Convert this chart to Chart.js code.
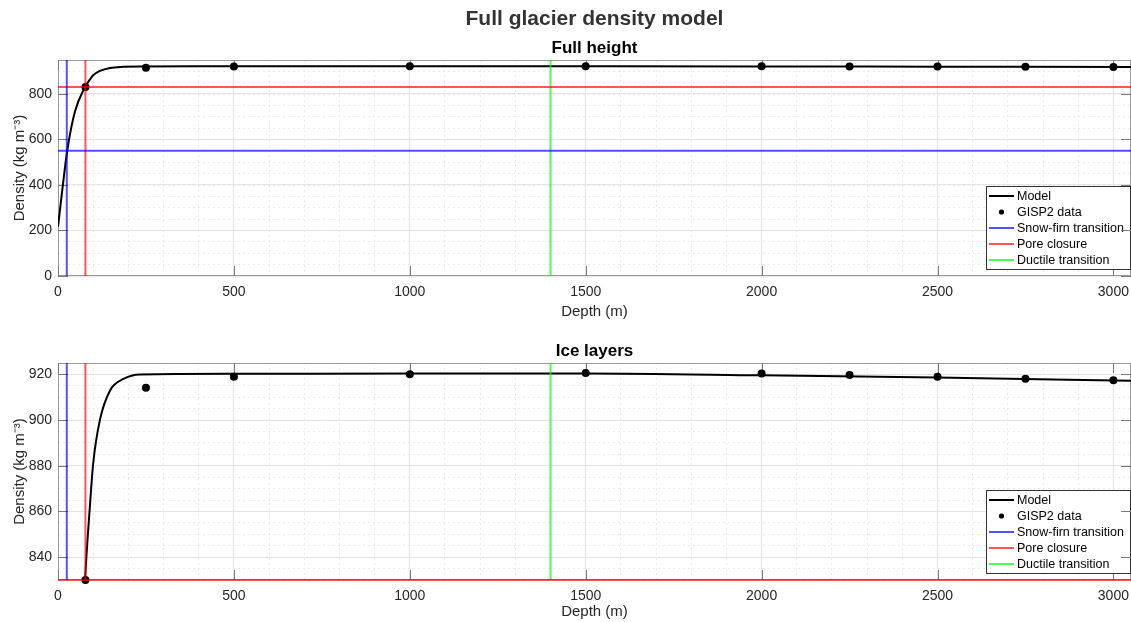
<!DOCTYPE html>
<html>
<head>
<meta charset="utf-8">
<script src="https://cdn.jsdelivr.net/npm/chart.js@4.4.0/dist/chart.umd.min.js"></script>
<style>
  body { margin: 0; background: #fff; }
  #page { position: relative; width: 1131px; height: 622px; overflow: hidden; }
  #suptitle {
    position: absolute; left: 58px; right: 0; top: 6px; z-index: 2;
    text-align: center; color: #333;
    font: bold 21px "Liberation Sans", Arial, sans-serif;
  }
  .panel { position: absolute; left: 0; width: 1131px; }
  #panelFull { top: 0; height: 322px; }
  #panelIce { top: 322px; height: 300px; }
</style>
</head>
<body>
<div id="page">
  <div id="suptitle">Full glacier density model</div>
  <div class="panel" id="panelFull"><canvas id="fullheight"></canvas></div>
  <div class="panel" id="panelIce"><canvas id="icelayers"></canvas></div>
</div>
<script>
// model curve, depth (m) vs density (kg m^-3)
const modelDepth = [0, 15, 26.5, 48, 77, 91, 100, 119, 148, 186, 233, 500, 1000, 1500, 2000, 2500, 3050];
const modelDensity = [216, 414, 553, 721, 830, 863, 881, 900, 913, 918, 920, 920.3, 920.4, 920.4, 919.6, 918.6, 917.2];

// GISP2 core measurements
const gispDepth = [78, 250, 500, 1000, 1500, 2000, 2250, 2500, 2750, 3000];
const gispDensity = [830, 914.2, 919, 920.1, 920.6, 920.4, 919.7, 919.0, 918.1, 917.4];

// transitions
const snowFirnDepth = 25;
const snowFirnDensity = 550;
const poreDepth = 78;
const poreDensity = 830;
const ductileDepth = 1400;

// axes
const depthMax = 3050;
const depthTicks = [0, 500, 1000, 1500, 2000, 2500, 3000];
const fullRange = [0, 948];
const fullTicks = [0, 200, 400, 600, 800];
const iceRange = [830, 925];
const iceTicks = [840, 860, 880, 900, 920];

const colors = {
  model: "#000000",
  data: "#000000",
  snowFirn: "rgba(0, 0, 255, 0.68)",
  pore: "rgba(255, 0, 0, 0.66)",
  ductile: "rgba(0, 255, 0, 0.7)",
  text: "#262626",
  frame: "#9a9a9a",
  tick: "#7a7a7a",
  grid: "#e4e4e4",
  minorGrid: "#ebebeb",
};
const FONT = '"Liberation Sans", Arial, sans-serif';
Chart.defaults.font.family = FONT;

function zip(xs, ys) {
  return xs.map((x, i) => ({ x: x, y: ys[i] }));
}

// vertical line at a depth, plus a horizontal one at a density when it falls in range
function transitionLine(depth, density, yMin, yMax) {
  const pts = [{ x: depth, y: yMin }, { x: depth, y: yMax }];
  if (density !== undefined && density >= yMin && density <= yMax) {
    pts.push({ x: null, y: null }, { x: 0, y: density }, { x: depthMax, y: density });
  }
  return pts;
}

function drawTicks(chart, sides) {
  const ctx = chart.ctx;
  const a = chart.chartArea;
  ctx.save();
  ctx.beginPath();
  if (sides.includes("x")) {
    chart.scales.x.ticks.forEach((t) => {
      const px = Math.round(chart.scales.x.getPixelForValue(t.value)) + 0.5;
      ctx.moveTo(px, a.bottom);
      ctx.lineTo(px, a.bottom - 10);
      ctx.moveTo(px, a.top);
      ctx.lineTo(px, a.top + 10);
    });
  }
  chart.scales.y.ticks.forEach((t) => {
    const py = Math.round(chart.scales.y.getPixelForValue(t.value)) + 0.5;
    if (sides.includes("left")) {
      ctx.moveTo(a.left, py);
      ctx.lineTo(a.left + 10, py);
    }
    if (sides.includes("right")) {
      ctx.moveTo(a.right, py);
      ctx.lineTo(a.right - 10, py);
    }
  });
  ctx.strokeStyle = colors.tick;
  ctx.lineWidth = 1;
  ctx.stroke();
  ctx.restore();
}

function drawLegend(chart) {
  const ctx = chart.ctx;
  const a = chart.chartArea;
  const items = chart.data.datasets.filter((d) => d.label);
  const w = 144;
  const h = 83;
  const left = Math.round(a.right - 1 - w);
  const top = Math.round(a.bottom - 7 - h);
  ctx.save();
  ctx.fillStyle = "#fff";
  ctx.fillRect(left, top, w, h);
  ctx.strokeStyle = "#333";
  ctx.lineWidth = 1;
  ctx.strokeRect(left + 0.5, top + 0.5, w, h);
  ctx.font = "12.5px " + FONT;
  ctx.textBaseline = "middle";
  items.forEach((d, i) => {
    const cy = Math.round(top + 10 + i * 16);
    if (d.showLine === false) {
      ctx.beginPath();
      ctx.arc(left + 15.5, cy, 2.6, 0, Math.PI * 2);
      ctx.fillStyle = d.backgroundColor;
      ctx.fill();
    } else {
      ctx.beginPath();
      ctx.moveTo(left + 3, cy);
      ctx.lineTo(left + 28, cy);
      ctx.strokeStyle = d.borderColor;
      ctx.lineWidth = 2;
      ctx.stroke();
    }
    ctx.fillStyle = "#000";
    ctx.fillText(d.label, left + 31, cy + 1);
  });
  ctx.restore();
}

const panelDecorations = {
  id: "panelDecorations",
  beforeDatasetsDraw: (chart) => {
    const a = chart.chartArea;
    const ctx = chart.ctx;
    ctx.save();
    ctx.strokeStyle = colors.frame;
    ctx.lineWidth = 1;
    ctx.strokeRect(a.left + 0.5, a.top + 0.5, a.right - a.left - 1, a.bottom - a.top - 1);
    ctx.restore();
    drawTicks(chart, ["x", "left", "right"]);
  },
  afterDraw: (chart) => {
    drawLegend(chart);
    drawTicks(chart, ["right"]);
    const a = chart.chartArea;
    const ctx = chart.ctx;
    ctx.save();
    ctx.font = "bold 17px " + FONT;
    ctx.fillStyle = "#000";
    ctx.textAlign = "center";
    ctx.textBaseline = "alphabetic";
    ctx.fillText(chart.options.plugins.panelTitle.text, (a.left + a.right) / 2, a.top - 7);
    ctx.restore();
  },
};

function panelConfig(title, yRange, yTicks, yMinorStep, topPad, xHeight) {
  const [yMin, yMax] = yRange;
  return {
    type: "line",
    data: {
      datasets: [
        {
          label: "Model",
          data: zip(modelDepth, modelDensity),
          borderColor: colors.model,
          borderWidth: 2,
          pointRadius: 0,
          cubicInterpolationMode: "monotone",
          order: 2,
        },
        {
          label: "GISP2 data",
          data: zip(gispDepth, gispDensity),
          showLine: false,
          pointRadius: 4,
          pointBackgroundColor: colors.data,
          pointBorderWidth: 0,
          backgroundColor: colors.data,
          borderColor: colors.data,
          clip: false,
          order: 1,
        },
        {
          label: "Snow-firn transition",
          data: transitionLine(snowFirnDepth, snowFirnDensity, yMin, yMax),
          borderColor: colors.snowFirn,
          borderWidth: 2,
          pointRadius: 0,
          spanGaps: false,
          clip: false,
          order: 0,
        },
        {
          label: "Pore closure",
          data: transitionLine(poreDepth, poreDensity, yMin, yMax),
          borderColor: colors.pore,
          borderWidth: 2,
          pointRadius: 0,
          spanGaps: false,
          clip: false,
          order: 0,
        },
        {
          label: "Ductile transition",
          data: transitionLine(ductileDepth, undefined, yMin, yMax),
          borderColor: colors.ductile,
          borderWidth: 2,
          pointRadius: 0,
          clip: false,
          order: 0,
        },
      ],
    },
    options: {
      animation: false,
      responsive: true,
      maintainAspectRatio: false,
      events: [],
      layout: { autoPadding: false, padding: { top: topPad, left: 0, right: 0, bottom: 0 } },
      plugins: {
        legend: { display: false },
        tooltip: { enabled: false },
        panelTitle: { text: title },
      },
      scales: {
        xm: {
          type: "linear",
          position: "bottom",
          min: 0,
          max: depthMax,
          afterBuildTicks: (s) => { s.ticks = s.ticks.filter((t) => t.value <= 3000); },
          afterFit: (s) => { s.height = 0; s.paddingLeft = 0; s.paddingRight = 0; },
          ticks: { display: false, stepSize: 100, includeBounds: false },
          grid: { color: colors.minorGrid, drawTicks: false },
          border: { display: false, dash: [2, 3] },
        },
        ym: {
          type: "linear",
          position: "left",
          min: yMin,
          max: yMax,
          afterFit: (s) => { s.width = 0; s.paddingTop = 0; s.paddingBottom = 0; },
          ticks: { display: false, stepSize: yMinorStep, includeBounds: false },
          grid: { color: colors.minorGrid, drawTicks: false },
          border: { display: false, dash: [2, 3] },
        },
        x: {
          type: "linear",
          position: "bottom",
          min: 0,
          max: depthMax,
          afterBuildTicks: (s) => { s.ticks = depthTicks.map((v) => ({ value: v })); },
          afterFit: (s) => { s.height = xHeight; s.paddingLeft = 0; s.paddingRight = 0; },
          grid: { color: colors.grid, drawTicks: false },
          border: { display: false },
          ticks: {
            color: colors.text,
            font: { size: 14 },
            padding: 8,
            maxRotation: 0,
            callback: (v) => String(v),
          },
          title: {
            display: true,
            text: "Depth (m)",
            color: colors.text,
            font: { size: 15 },
            padding: { top: 0, bottom: 1 },
          },
        },
        y: {
          type: "linear",
          position: "left",
          min: yMin,
          max: yMax,
          afterBuildTicks: (s) => { s.ticks = yTicks.map((v) => ({ value: v })); },
          afterFit: (s) => { s.width = 58; s.paddingTop = 0; s.paddingBottom = 0; },
          grid: { color: colors.grid, drawTicks: false },
          border: { display: false },
          ticks: { color: colors.text, font: { size: 14 }, padding: 6, callback: (v) => String(v) },
          title: {
            display: true,
            text: "Density (kg m\u207B\u00B3)",
            color: colors.text,
            font: { size: 15 },
            padding: { top: 11, bottom: 0 },
          },
        },
      },
    },
    plugins: [panelDecorations],
  };
}

new Chart(document.getElementById("fullheight"),
  panelConfig("Full height", fullRange, fullTicks, 50, 60, 46));
new Chart(document.getElementById("icelayers"),
  panelConfig("Ice layers", iceRange, iceTicks, 5, 41, 42));
</script>
</body>
</html>
